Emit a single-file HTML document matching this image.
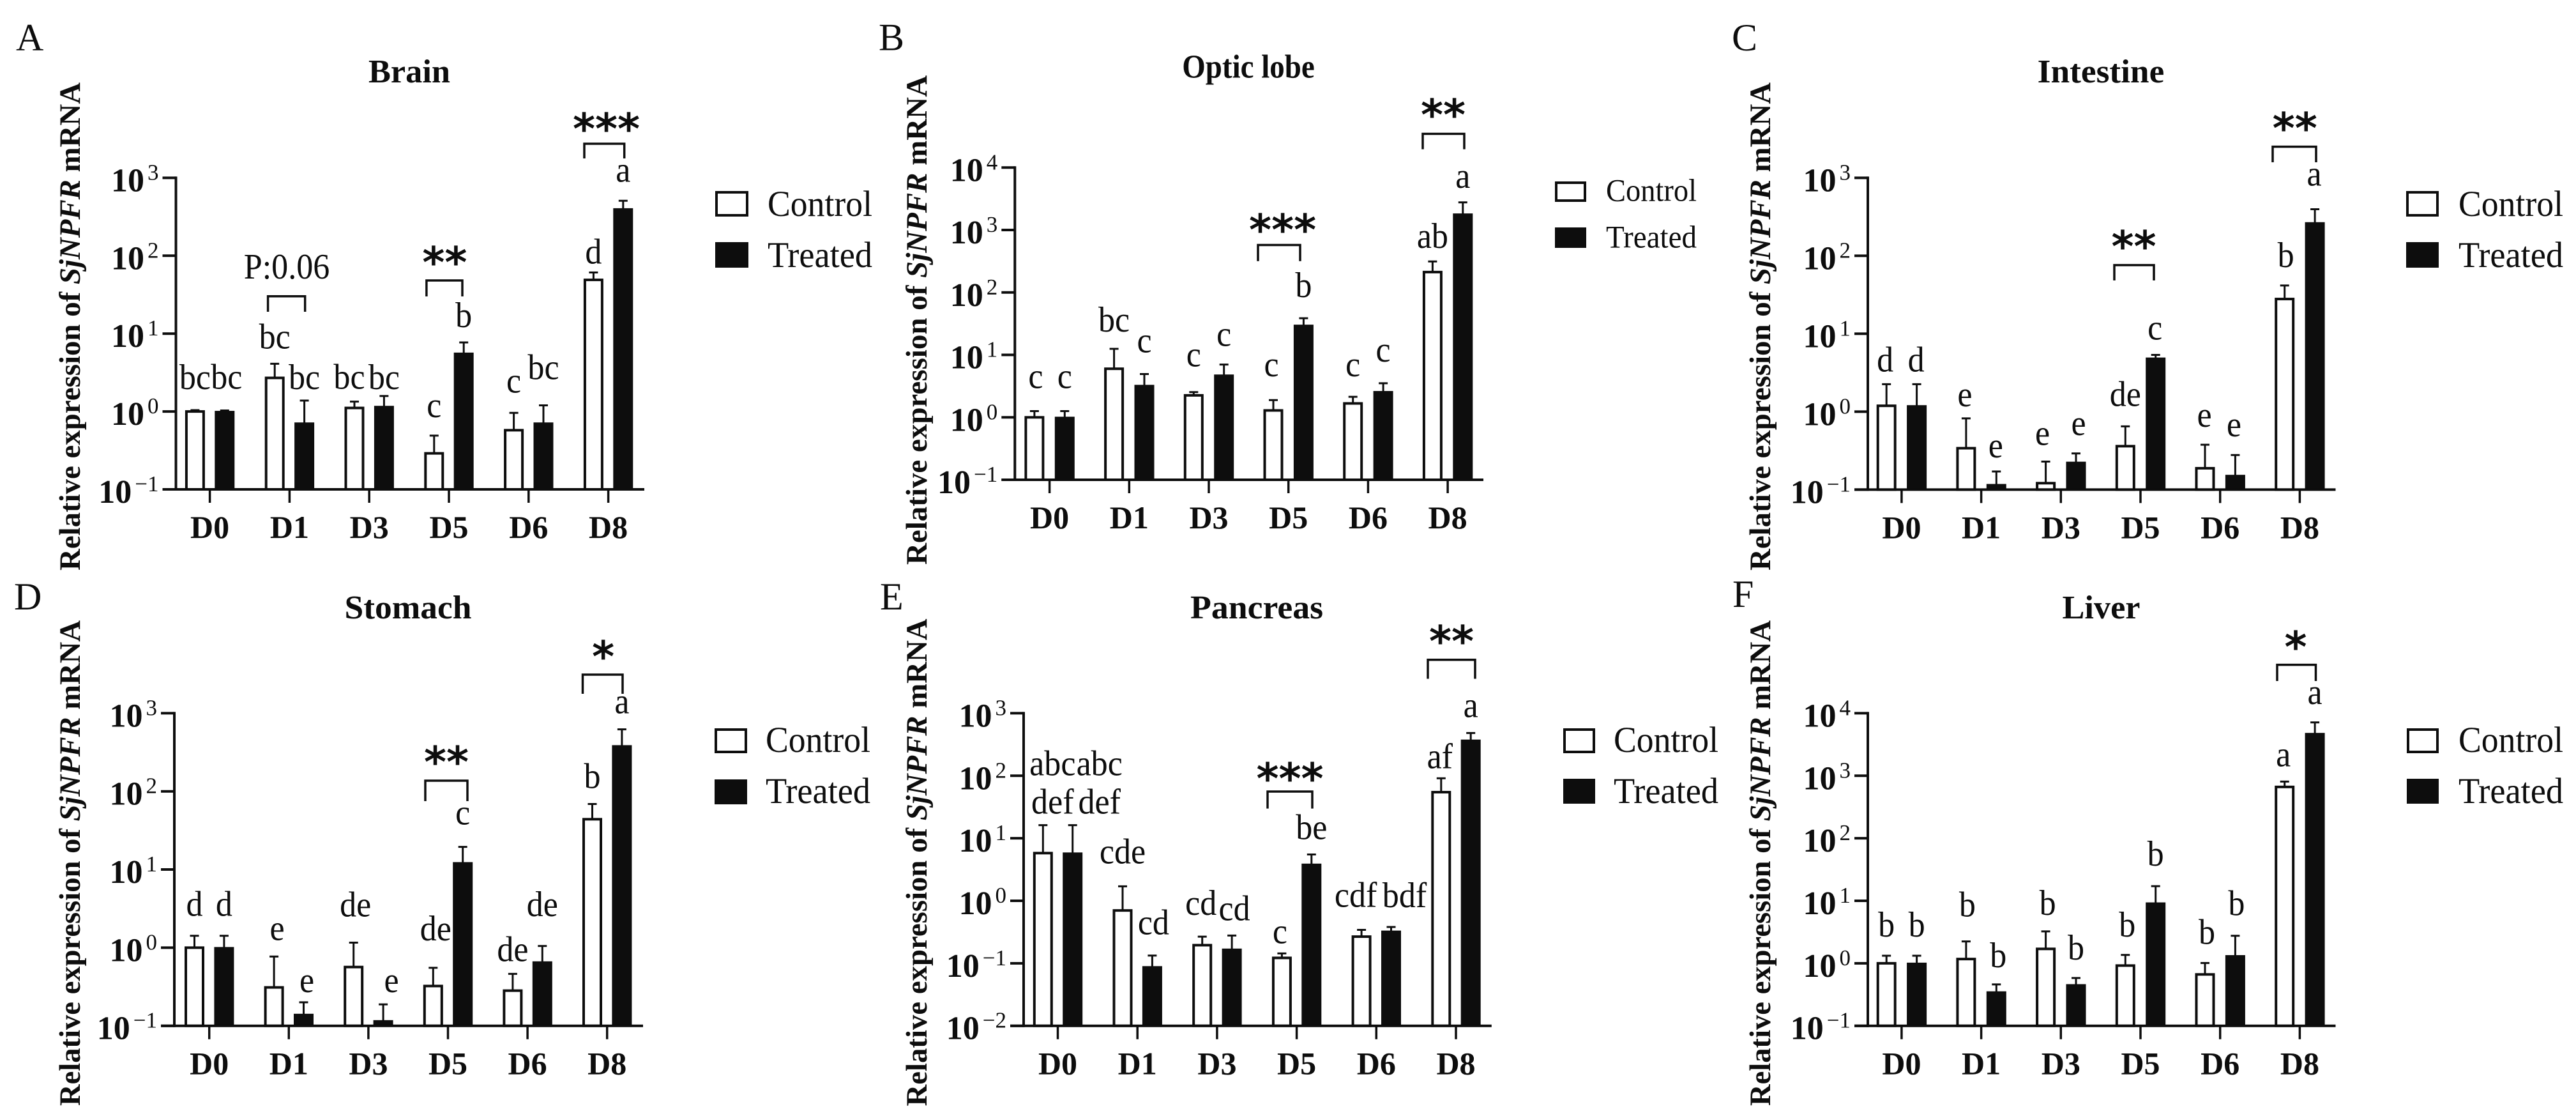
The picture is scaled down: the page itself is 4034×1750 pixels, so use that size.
<!DOCTYPE html>
<html>
<head>
<meta charset="utf-8">
<title>Relative expression of SjNPFR mRNA</title>
<style>
html,body{margin:0;padding:0;background:#fff;width:4034px;height:1750px;overflow:hidden}
svg{display:block}
text{font-family:"Liberation Serif",serif;fill:#0d0d0d}
</style>
</head>
<body>
<svg id="figure" xmlns="http://www.w3.org/2000/svg" width="4034" height="1750" viewBox="0 0 4034 1750"></svg>
<script>
// ---------- DATA ----------
const categories = ['D0','D1','D3','D5','D6','D8'];
const seriesNames = ['Control','Treated'];

const brainTitle = 'Brain';
const brainTicks = [-1,0,1,2,3];
const brainControl = [1.0,2.7,1.11,0.29,0.575,49];
const brainControlErr = [1.04,4.1,1.34,0.49,0.96,61];
const brainTreated = [1.0,0.71,1.16,5.6,0.71,400];
const brainTreatedErr = [1.03,1.38,1.58,7.7,1.2,508];
const brainControlLetters = ['bc','bc','bc','c','c','d'];
const brainTreatedLetters = ['bc','bc','bc','b','bc','a'];

const opticTitle = 'Optic lobe';
const opticTicks = [-1,0,1,2,3,4];
const opticControl = [1.0,6.0,2.25,1.29,1.67,212];
const opticControlErr = [1.26,12.5,2.54,1.89,2.13,314];
const opticTreated = [1.0,3.24,4.74,29.8,2.58,1800];
const opticTreatedErr = [1.26,4.94,7.0,38.6,3.52,2770];
const opticControlLetters = ['c','bc','c','c','c','ab'];
const opticTreatedLetters = ['c','c','c','b','c','a'];

const intestineTitle = 'Intestine';
const intestineTicks = [-1,0,1,2,3];
const intestineControl = [1.19,0.34,0.121,0.361,0.188,27.9];
const intestineControlErr = [2.25,0.82,0.229,0.648,0.377,41.6];
const intestineTreated = [1.19,0.116,0.224,4.86,0.152,265];
const intestineTreatedErr = [2.25,0.171,0.291,5.36,0.278,396];
const intestineControlLetters = ['d','e','e','de','e','b'];
const intestineTreatedLetters = ['d','e','e','c','e','a'];

const stomachTitle = 'Stomach';
const stomachTicks = [-1,0,1,2,3];
const stomachControl = [1.0,0.31,0.565,0.323,0.282,44];
const stomachControlErr = [1.42,0.77,1.16,0.553,0.462,69];
const stomachTreated = [1.0,0.14,0.116,12.2,0.656,383];
const stomachTreatedErr = [1.42,0.2,0.188,19.5,1.05,622];
const stomachControlLetters = ['d','e','de','de','de','b'];
const stomachTreatedLetters = ['d','e','e','c','de','a'];

const pancreasTitle = 'Pancreas';
const pancreasTicks = [-2,-1,0,1,2,3];
const pancreasControl = [5.79,0.70,0.195,0.122,0.267,54.6];
const pancreasControlErr = [16.2,1.7,0.267,0.144,0.343,91];
const pancreasTreated = [5.79,0.088,0.168,3.84,0.326,370];
const pancreasTreatedErr = [16.2,0.133,0.278,5.5,0.381,483];
const pancreasControlLetters = ['abc|def','cde','cd','c','cdf','af'];
const pancreasTreatedLetters = ['abc|def','cd','cd','be','bdf','a'];

const liverTitle = 'Liver';
const liverTicks = [-1,0,1,2,3,4];
const liverControl = [1.0,1.17,1.7,0.92,0.664,662];
const liverControlErr = [1.32,2.24,3.24,1.36,1.01,807];
const liverTreated = [1.0,0.348,0.453,9.2,1.32,4730];
const liverTreatedErr = [1.32,0.459,0.582,17.1,2.76,7130];
const liverControlLetters = ['b','b','b','b','b','a'];
const liverTreatedLetters = ['b','b','b','b','b','a'];

// ---------- LAYOUT ----------
const panels = [
 {key:'brain',tag:'A',tagX:25,tagY:79,title:brainTitle,titleX:641,titleY:129,titleW:128,ticks:brainTicks,
  control:brainControl,controlErr:brainControlErr,treated:brainTreated,treatedErr:brainTreatedErr,
  lc:brainControlLetters,lt:brainTreatedLetters,
  axisX:275.5,base:766,top:278.4,first:328.6,pitch:124.8,off:23.2,endX:1009,
  ytX:125,ytY:511,ytL:764,
  legX:1120,legY:[299,379],legW:52,legH:40,legTX:1202,legTY:[338,418],legTW:164,legF:57,
  liftC:[33,24,20,29,32,14],dxC:[0,0,-8,0,0,0],liftT:[34,18,11,24,41,30],dxT:[3,0,0,0,0,0],
  brackets:[
   {name:'d1',x1:419.6,x2:477.7,t:463.8,b:488,label:'P:0.06',lx:449,ly:436},
   {name:'d5',x1:667.9,x2:724,t:439,b:464,stars:'**',sx:696.4,sy:400},
   {name:'d8',x1:915,x2:977.7,t:225,b:248,stars:'***',sx:949.5,sy:191}]},
 {key:'optic-lobe',tag:'B',tagX:1376,tagY:78.6,title:opticTitle,titleX:1955,titleY:121.7,titleW:207.5,ticks:opticTicks,
  control:opticControl,controlErr:opticControlErr,treated:opticTreated,treatedErr:opticTreatedErr,
  lc:opticControlLetters,lt:opticTreatedLetters,
  axisX:1589.3,base:751,top:262.3,first:1643.6,pitch:124.7,off:23.7,endX:2323,
  ytX:1451,ytY:501,ytL:766,
  legX:2435,legY:[284,356],legW:49,legH:32,legTX:2515,legTY:[314.6,387.5],legTW:142,legF:50,
  liftC:[36,27,40,37,32,21],dxC:[2,0,0,-3,0,0],liftT:[36,34,29,33,34,23],dxT:[0,0,0,0,0,0],
  brackets:[
   {name:'d5',x1:1970,x2:2036,t:383.5,b:408.7,stars:'***',sx:2008.6,sy:349},
   {name:'d8',x1:2228,x2:2293,t:209.5,b:233.6,stars:'**',sx:2260,sy:169}]},
 {key:'intestine',tag:'C',tagX:2712,tagY:79,title:intestineTitle,titleX:3290,titleY:129,titleW:198.6,ticks:intestineTicks,
  control:intestineControl,controlErr:intestineControlErr,treated:intestineTreated,treatedErr:intestineTreatedErr,
  lc:intestineControlLetters,lt:intestineTreatedLetters,
  axisX:2925,base:766.4,top:278.4,first:2977.9,pitch:124.7,off:23.7,endX:3657.5,
  ytX:2772,ytY:511,ytL:764,
  legX:3768,legY:[299,379],legW:51,legH:40,legTX:3850,legTY:[338,418],legTW:164,legF:57,
  liftC:[20,19,26,32,28,29],dxC:[-2,-2,-5,0,-1,2],liftT:[20,22,29,24,29,37],dxT:[-1,-1,4,-1,-2,-1],
  brackets:[
   {name:'d5',x1:3311,x2:3373,t:415,b:439,stars:'**',sx:3341.5,sy:375},
   {name:'d8',x1:3559,x2:3627,t:229.6,b:254,stars:'**',sx:3593.7,sy:190}]},
 {key:'stomach',tag:'D',tagX:22,tagY:954,title:stomachTitle,titleX:639,titleY:968,titleW:199,ticks:stomachTicks,
  control:stomachControl,controlErr:stomachControlErr,treated:stomachTreated,treatedErr:stomachTreatedErr,
  lc:stomachControlLetters,lt:stomachTreatedLetters,
  axisX:273,base:1605.7,top:1116.4,first:327.7,pitch:124.6,off:23.2,endX:1007,
  ytX:125,ytY:1351,ytL:760,
  legX:1119,legY:[1140,1220],legW:51,legH:39,legTX:1199,legTY:[1177,1257],legTW:164,legF:57,
  liftC:[31,26,41,43,20,25],dxC:[0,5,3,4,0,0],liftT:[31,16,19,35,47,25],dxT:[0,5,13,0,0,0],
  brackets:[
   {name:'d5',x1:666,x2:732,t:1222,b:1254,stars:'**',sx:699,sy:1182},
   {name:'d8',x1:912.5,x2:975,t:1056,b:1086,stars:'*',sx:944.6,sy:1017}]},
 {key:'pancreas',tag:'E',tagX:1378,tagY:954,title:pancreasTitle,titleX:1968,titleY:968,titleW:208,ticks:pancreasTicks,
  control:pancreasControl,controlErr:pancreasControlErr,treated:pancreasTreated,treatedErr:pancreasTreatedErr,
  lc:pancreasControlLetters,lt:pancreasTreatedLetters,
  axisX:1603,base:1605.7,top:1116.4,first:1656.5,pitch:124.7,off:23.2,endX:2335.8,
  ytX:1451,ytY:1350,ytL:763,
  legX:2448,legY:[1140,1219],legW:50,legH:39,legTX:2527,legTY:[1177,1257],legTW:164,legF:57,
  liftC:[18,36,34,16,36,16],dxC:[15,0,-2,-3,-9,-2],liftT:[18,33,24,24,31,25],dxT:[42,2,4,0,21,0],
  brackets:[
   {name:'d5',x1:1985,x2:2055,t:1239,b:1265.6,stars:'***',sx:2020,sy:1208},
   {name:'d8',x1:2236,x2:2310,t:1032.7,b:1062.5,stars:'**',sx:2273,sy:993}]},
 {key:'liver',tag:'F',tagX:2713,tagY:950,title:liverTitle,titleX:3290.5,titleY:968,titleW:122,ticks:liverTicks,
  control:liverControl,controlErr:liverControlErr,treated:liverTreated,treatedErr:liverTreatedErr,
  lc:liverControlLetters,lt:liverTreatedLetters,
  axisX:2925,base:1605.7,top:1116.4,first:2977.9,pitch:124.7,off:23.7,endX:3657.5,
  ytX:2772,ytY:1351,ytL:760,
  legX:3769,legY:[1140,1219],legW:50,legH:39,legTX:3850,legTY:[1177,1257],legTW:164,legF:57,
  liftC:[30,39,26,29,30,24],dxC:[0,2,3,3,3,-2],liftT:[30,27,29,32,32,29],dxT:[0,3,0,0,2,0],
  brackets:[
   {name:'d8',x1:3566,x2:3626.5,t:1040.6,b:1066,stars:'*',sx:3595,sy:1002}]}
];

// ---------- DRAWING ----------
const NS = 'http://www.w3.org/2000/svg';
const root = document.getElementById('figure');
const INK = '#0d0d0d';

function make(parent, tag, attrs, txt) {
  const n = document.createElementNS(NS, tag);
  for (const k in attrs) n.setAttribute(k, attrs[k]);
  if (txt !== undefined) n.textContent = txt;
  parent.appendChild(n);
  return n;
}
function line(parent, x1, y1, x2, y2, w) {
  return make(parent, 'line', {x1:x1, y1:y1, x2:x2, y2:y2, stroke:INK, 'stroke-width':w});
}

panels.forEach(function (p) {
  const g = make(root, 'g', {});
  
  

  const minE = p.ticks[0];
  const maxE = p.ticks[p.ticks.length - 1];
  const yScale = function (v) {
    return p.base - (Math.log10(v) - minE) / (maxE - minE) * (p.base - p.top);
  };
  const xScale = function (i) { return p.first + i * p.pitch; };

  // panel tag
  const tag = make(g, 'text', {x:p.tagX, y:p.tagY, 'font-size':60}, p.tag);
  
  

  // title
  const title = make(g, 'text', {x:p.titleX, y:p.titleY, 'font-size':52, 'font-weight':'bold', 'text-anchor':'middle',
    textLength:p.titleW, lengthAdjust:'spacingAndGlyphs'}, p.title);
  
  

  // y axis title
  const yt = make(g, 'text', {transform:'translate(' + p.ytX + ',' + p.ytY + ') rotate(-90)', 'font-size':47, 'font-weight':'bold',
    'text-anchor':'middle', textLength:p.ytL, lengthAdjust:'spacingAndGlyphs'});
  
  
  make(yt, 'tspan', {}, 'Relative expression of ');
  make(yt, 'tspan', {'font-style':'italic'}, 'SjNPFR');
  make(yt, 'tspan', {}, ' mRNA');

  // bars and error bars
  [[p.control, p.controlErr, 0], [p.treated, p.treatedErr, 1]].forEach(function (s) {
    const values = s[0], errs = s[1], isTreated = s[2] === 1;
    categories.forEach(function (cat, i) {
      const cx = xScale(i) + (isTreated ? p.off : -p.off);
      const yv = yScale(values[i]);
      const ye = yScale(errs[i]);
      const err = make(g, 'path', {d:'M' + cx + ' ' + yv + 'V' + ye + 'M' + (cx - 7) + ' ' + ye + 'H' + (cx + 7),
        fill:'none', stroke:INK, 'stroke-width':3});
      
      
      const bar = isTreated
        ? make(g, 'rect', {x:cx - 15.5, y:yv - 1, width:31, height:p.base - yv + 1, fill:INK})
        : make(g, 'rect', {x:cx - 13.5, y:yv, width:27, height:p.base - yv, fill:'#fff', stroke:INK, 'stroke-width':4});
      
      
    });
  });

  // significance letters above error bars
  [[p.lc, p.controlErr, p.liftC, p.dxC, -1], [p.lt, p.treatedErr, p.liftT, p.dxT, 1]].forEach(function (s) {
    s[0].forEach(function (letters, i) {
      const cx = xScale(i) + s[4] * p.off + s[3][i];
      const by = yScale(s[1][i]) - s[2][i];
      const rows = letters.split('|').reverse();
      rows.forEach(function (row, r) {
        const t = make(g, 'text', {transform:'translate(' + cx + ',' + (by - r * 60) + ') scale(0.93,1)', 'font-size':56, 'text-anchor':'middle'}, row);
        
        
      });
    });
  });

  // axes
  const yAxis = line(g, p.axisX, p.top - 2, p.axisX, p.base + 2, 4);
  
  
  const xAxis = line(g, p.axisX - 21, p.base, p.endX, p.base, 4);
  
  

  p.ticks.forEach(function (e) {
    const ty = yScale(Math.pow(10, e));
    const tk = line(g, p.axisX - 21, ty, p.axisX, ty, 4);
    
    
    const lb = make(g, 'text', {x:p.axisX - 27, y:ty + 21, 'font-size':52, 'font-weight':'bold', 'text-anchor':'end'});
    
    
    make(lb, 'tspan', {}, '10');
    make(lb, 'tspan', {dx:5, dy:-18, 'font-size':35, 'font-weight':'normal'}, String(e).replace('-', '\u2212'));
  });

  categories.forEach(function (cat, i) {
    const x = xScale(i);
    const tk = line(g, x, p.base, x, p.base + 21, 3.5);
    
    
    const lb = make(g, 'text', {x:x, y:p.base + 76, 'font-size':50, 'font-weight':'bold', 'text-anchor':'middle'}, cat);
    
    
  });

  // significance brackets
  p.brackets.forEach(function (b) {
    const br = make(g, 'path', {d:'M' + b.x1 + ' ' + b.b + 'V' + b.t + 'H' + b.x2 + 'V' + b.b, fill:'none', stroke:INK, 'stroke-width':3.5});
    
    
    if (b.stars) {
      const st = make(g, 'text', {x:b.sx, y:b.sy + 34, 'font-size':67, 'font-weight':'bold', 'text-anchor':'middle',
        style:'font-family:"DejaVu Sans",sans-serif'}, b.stars);
      
      
    } else {
      const lt = make(g, 'text', {transform:'translate(' + b.lx + ',' + b.ly + ') scale(0.93,1)', 'font-size':56, 'text-anchor':'middle'}, b.label);
      
      
    }
  });

  // legend
  seriesNames.forEach(function (nm, i) {
    const sw = i === 0
      ? make(g, 'rect', {x:p.legX + 2, y:p.legY[0] + 2, width:p.legW - 4, height:p.legH - 4, fill:'#fff', stroke:INK, 'stroke-width':4})
      : make(g, 'rect', {x:p.legX, y:p.legY[1], width:p.legW, height:p.legH, fill:INK});
    
    
    const t = make(g, 'text', {x:p.legTX, y:p.legTY[i], 'font-size':p.legF, textLength:p.legTW, lengthAdjust:'spacingAndGlyphs'}, nm);
    
    
  });
});
</script>
</body>
</html>
